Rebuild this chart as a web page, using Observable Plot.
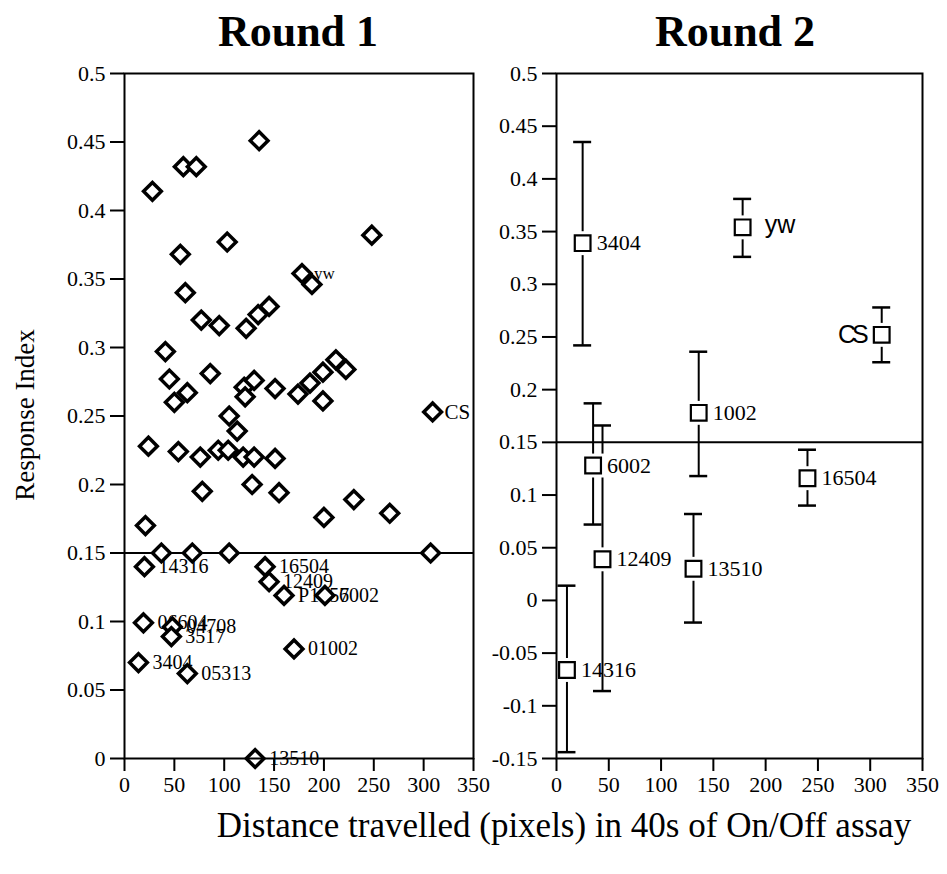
<!DOCTYPE html>
<html><head><meta charset="utf-8">
<script src="https://cdn.jsdelivr.net/npm/d3@7"></script>
<script src="https://cdn.jsdelivr.net/npm/@observablehq/plot@0.6"></script>
<style>
body{margin:0;background:#fff;}
#wrap{position:relative;width:947px;height:874px;background:#fff;overflow:hidden;font-family:"Liberation Serif",serif;color:#000}
.panel{position:absolute;top:0}
.title{position:absolute;top:6px;font-weight:bold;font-size:44px;transform:translateX(-50%);white-space:nowrap}
.ylab{position:absolute;left:25px;top:415px;font-size:27px;transform:translate(-50%,-50%) rotate(-90deg);white-space:nowrap}
.xlab{position:absolute;left:564px;top:826px;font-size:35px;transform:translate(-50%,-50%);white-space:nowrap}
</style></head>
<body>
<div id="wrap">
  <div id="left" class="panel" style="left:0"></div>
  <div id="right" class="panel" style="left:480px"></div>
  <div class="title" style="left:298px">Round 1</div>
  <div class="title" style="left:735px">Round 2</div>
  <div class="ylab">Response Index</div>
  <div class="xlab">Distance travelled (pixels) in 40s of On/Off assay</div>
</div>
<script>
// ---------- Round 1 data ----------
const r1X = [135, 59, 72, 28, 248, 103, 56, 178, 188, 61, 77, 95, 122, 134, 145, 41, 212, 45, 86, 63, 50, 120, 130, 121, 151, 174, 186, 199, 222, 199, 309, 105, 113, 24, 54, 76, 94, 104, 119, 130, 151, 128, 78, 155, 230, 266, 200, 21, 37, 68, 105, 307,
  20, 141, 145, 160, 201, 170, 19, 48, 47, 14, 63, 131];
const r1Y = [0.451, 0.432, 0.432, 0.414, 0.382, 0.377, 0.368, 0.354, 0.346, 0.340, 0.320, 0.316, 0.314, 0.324, 0.330, 0.297, 0.291, 0.277, 0.281, 0.267, 0.260, 0.271, 0.276, 0.264, 0.270, 0.266, 0.274, 0.282, 0.284, 0.261, 0.253, 0.250, 0.239, 0.228, 0.224, 0.220, 0.225, 0.225, 0.220, 0.220, 0.219, 0.200, 0.195, 0.194, 0.189, 0.179, 0.176, 0.170, 0.150, 0.150, 0.150, 0.150,
  0.140, 0.140, 0.129, 0.119, 0.119, 0.080, 0.099, 0.096, 0.089, 0.070, 0.062, 0.000];
const r1Label = ["", "", "", "", "", "", "", "yw", "", "", "", "", "", "", "", "", "", "", "", "", "", "", "", "", "", "", "", "", "", "", "CS", "", "", "", "", "", "", "", "", "", "", "", "", "", "", "", "", "", "", "", "", "",
  "14316", "16504", "12409", "P1457", "6002", "01002", "06604", "04708", "3517", "3404", "05313", "13510"];

// ---------- Round 2 data ----------
const r2Strain = ["3404", "yw", "CS", "1002", "6002", "12409", "16504", "13510", "14316"];
const r2X = [25, 178, 311, 136, 35, 44, 240, 131, 10];
const r2Y = [0.339, 0.354, 0.252, 0.178, 0.128, 0.039, 0.116, 0.030, -0.066];
const r2Low = [0.242, 0.326, 0.226, 0.118, 0.072, -0.086, 0.090, -0.021, -0.144];
const r2High = [0.435, 0.381, 0.278, 0.236, 0.187, 0.166, 0.143, 0.082, 0.014];

// ---------- ticks ----------
const xTicks = [0, 50, 100, 150, 200, 250, 300, 350];
const yTicksL = [0, 0.05, 0.1, 0.15, 0.2, 0.25, 0.3, 0.35, 0.4, 0.45, 0.5];
const yTicksR = [-0.15, -0.1, -0.05, 0, 0.05, 0.1, 0.15, 0.2, 0.25, 0.3, 0.35, 0.4, 0.45, 0.5];
const threshold = 0.15;

const serif = "Liberation Serif";
const sans = "Liberation Sans";

const r1 = r1X.map((x, i) => ({x, y: r1Y[i], label: r1Label[i]}));
const r2 = r2Strain.map((s, i) => ({strain: s, x: r2X[i], y: r2Y[i], lo: r2Low[i], hi: r2High[i]}));

const baseStyle = {fontFamily: serif, fontSize: "22px", background: "transparent", overflow: "visible", color: "black"};

const axes = (yt) => [
  Plot.axisX({ticks: xTicks, tickFormat: d => String(d), tickSize: 13, tickPadding: 5, strokeWidth: 2, label: null, fontSize: 22}),
  Plot.axisY({ticks: yt, tickFormat: d => String(d), tickSize: 14, tickPadding: 5, strokeWidth: 2, label: null, fontSize: 22})
];

const left = Plot.plot({
  width: 480, height: 810,
  marginTop: 73, marginBottom: 52, marginLeft: 124, marginRight: 7,
  x: {domain: [0, 350]},
  y: {domain: [0, 0.5]},
  style: baseStyle,
  marks: [
    Plot.ruleY([threshold], {stroke: "black", strokeWidth: 2}),
    Plot.text(r1.filter(d => d.label && d.label !== "yw" && d.label !== "CS"), {x: "x", y: "y", text: "label", dx: 14, textAnchor: "start", fontSize: 20, fontFamily: serif, fill: "black"}),
    Plot.text(r1.filter(d => d.label === "yw"), {x: "x", y: "y", text: "label", dx: 12, textAnchor: "start", fontSize: 17, fontFamily: serif, fill: "black"}),
    Plot.text(r1.filter(d => d.label === "CS"), {x: "x", y: "y", text: "label", dx: 12, textAnchor: "start", fontSize: 21, fontFamily: serif, fill: "black"}),
    Plot.dot(r1, {x: "x", y: "y", symbol: "diamond2", r: 8, fill: "white", stroke: "black", strokeWidth: 3.5}),
    ...axes(yTicksL),
    Plot.frame({stroke: "black", strokeWidth: 2})
  ]
});
document.getElementById("left").append(left);

const right = Plot.plot({
  width: 467, height: 810,
  marginTop: 73, marginBottom: 52, marginLeft: 76, marginRight: 25,
  x: {domain: [0, 350]},
  y: {domain: [-0.15, 0.5]},
  style: baseStyle,
  marks: [
    Plot.ruleY([threshold], {stroke: "black", strokeWidth: 2}),
    Plot.ruleX(r2, {x: "x", y1: "lo", y2: "hi", stroke: "black", strokeWidth: 2}),
    Plot.ruleY(r2, {y: "hi", x1: "x", x2: "x", insetLeft: -9, insetRight: -9, stroke: "black", strokeWidth: 2.5}),
    Plot.ruleY(r2, {y: "lo", x1: "x", x2: "x", insetLeft: -9, insetRight: -9, stroke: "black", strokeWidth: 2.5}),
    Plot.dot(r2, {x: "x", y: "y", symbol: "square", r: 13.5, fill: "white", stroke: null}),
    Plot.dot(r2, {x: "x", y: "y", symbol: "square2", r: 10, fill: "white", stroke: "black", strokeWidth: 2.2}),
    Plot.text(r2.filter(d => d.strain !== "yw" && d.strain !== "CS"), {x: "x", y: "y", text: "strain", dx: 14, textAnchor: "start", fontSize: 22, fontFamily: serif, fill: "black"}),
    Plot.text(r2.filter(d => d.strain === "yw"), {x: "x", y: "y", text: "strain", dx: 22, dy: -2, textAnchor: "start", fontSize: 25, fontFamily: sans, fill: "black"}),
    Plot.text(r2.filter(d => d.strain === "CS"), {x: "x", y: "y", text: "strain", dx: -17, textAnchor: "end", fontSize: 25, fontFamily: sans, fill: "black"}),
    ...axes(yTicksR),
    Plot.frame({stroke: "black", strokeWidth: 2})
  ]
});
document.getElementById("right").append(right);
right.querySelectorAll("text").forEach(t => { if (t.textContent === "CS") t.setAttribute("letter-spacing", "-4"); });
</script>
</body></html>
